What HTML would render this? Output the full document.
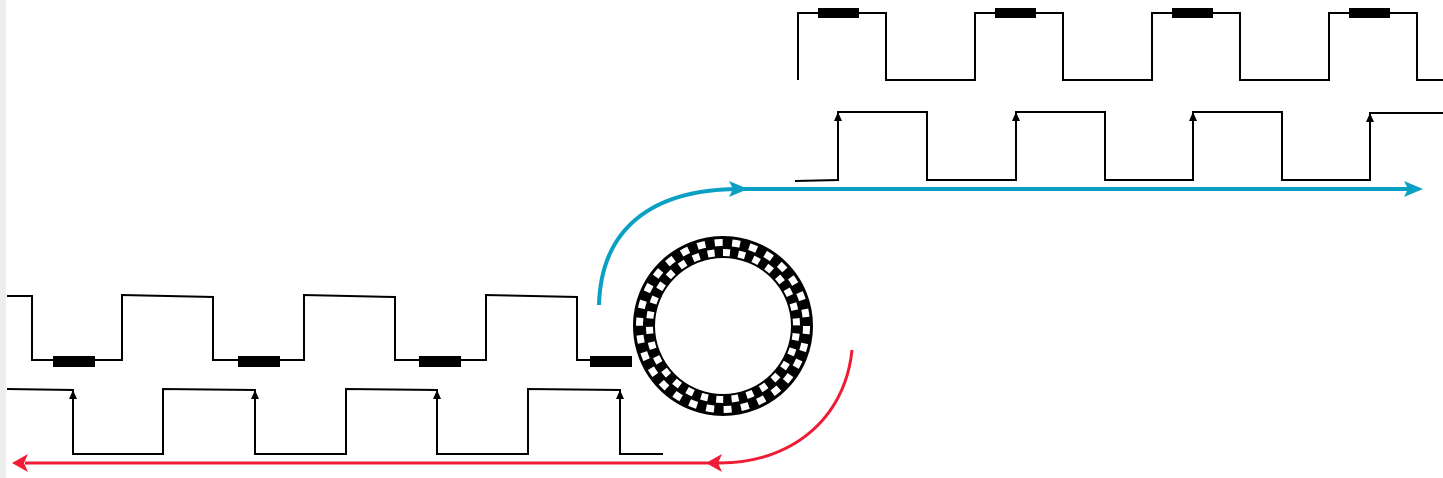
<!DOCTYPE html>
<html><head><style>body{margin:0;background:#fff}svg{display:block}</style></head><body>
<svg width="1443" height="478" viewBox="0 0 1443 478" xmlns="http://www.w3.org/2000/svg">
<rect x="0" y="0" width="6" height="478" fill="#eee"/>
<g fill="none" stroke="#000" stroke-width="2">
<polyline points="798,80 798,13 886,13 886,80 975,80 975,13 1063,13 1063,80 1152,80 1152,13 1240,13 1240,80 1329,80 1329,13 1417,13 1417,80 1443,80"/>
<polyline points="795,181 838,180 838,112 927,112 927,180 1016,180 1016,112 1105,112 1105,180 1193,180 1193,112 1282,112 1282,180 1370,180 1370,113 1443,113"/>
<polyline points="7,296 32,296 32,360 122,360 122,295 213,297 213,360 304,360 304,295 395,297 395,360 486,360 486,295 577,297 577,360 600,360"/>
<polyline points="7,389 73,390 73,454 163,454 163,389 255,390 255,454 346,454 346,389 437,390 437,454 528,454 528,389 620,390 620,454 663,454"/>
</g>
<g fill="#000">
<path d="M838,112 l-4,9 h8z M1016,112 l-4,9 h8z M1193,112 l-4,9 h8z M1370,113 l-4,9 h8z M73,390 l-4,9 h8z M255,390 l-4,9 h8z M437,390 l-4,9 h8z M620,390 l-4,9 h8z"/>
<rect x="818" y="8" width="41" height="10"/><rect x="995" y="8" width="41" height="10"/><rect x="1172" y="8" width="41" height="10"/><rect x="1349" y="8" width="41" height="10"/>
<rect x="53" y="356" width="42" height="11"/><rect x="238" y="356" width="42" height="11"/><rect x="419" y="356" width="42" height="11"/><rect x="590" y="356" width="42" height="11"/>
</g>
<g stroke="#0aa0c4" stroke-width="4" fill="none">
<path d="M599,305 C601,230 650,189 740,189 L1410,189"/>
</g>
<path d="M748,189 L729,181 L733,189 L729,197 Z" fill="#0aa0c4"/>
<path d="M1423,189 L1404,181 L1408,189 L1404,197 Z" fill="#0aa0c4"/>
<g stroke="#ee1c34" stroke-width="3" fill="none">
<path d="M852,350 C845,420 790,463 720,463 L25,463"/>
</g>
<path d="M12,463 L28,454 L24,463 L28,472 Z" fill="#ee1c34"/>
<path d="M706,463 L722,454 L718,463 L722,472 Z" fill="#ee1c34"/>
<circle cx="723" cy="326" r="79" fill="none" stroke="#000" stroke-width="22"/>
<circle cx="723" cy="326" r="83.5" fill="none" stroke="#fff" stroke-width="7" stroke-dasharray="8 9.5"/>
<circle cx="723" cy="326" r="73.5" fill="none" stroke="#fff" stroke-width="7" stroke-dasharray="7 8.4" stroke-dashoffset="8"/>
</svg>
</body></html>
